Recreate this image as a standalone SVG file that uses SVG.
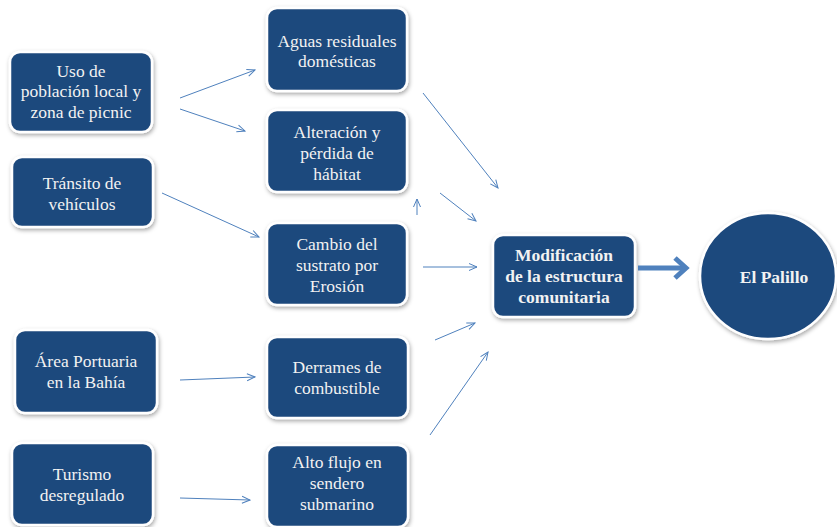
<svg xmlns="http://www.w3.org/2000/svg" width="837" height="527" viewBox="0 0 837 527">
  <defs>
    <filter id="shadow" x="-20%" y="-20%" width="140%" height="150%">
      <feDropShadow dx="1" dy="2" stdDeviation="2" flood-color="#000" flood-opacity="0.35"/>
    </filter>
    <marker id="head" viewBox="0 0 10 10" refX="9" refY="5" markerWidth="10" markerHeight="10" markerUnits="userSpaceOnUse" orient="auto">
      <path d="M1,1.5 L9,5 L1,8.5" fill="none" stroke="#4f81bd" stroke-width="1"/>
    </marker>
  </defs>
  <style>
    .box { fill: #1f497d; stroke: #ffffff; stroke-width: 2.5; filter: url(#shadow); }
    .lbl { font-family: "Liberation Serif", "Times New Roman", serif; font-size: 17.5px; fill: #f2f2f2; text-anchor: middle; }
    .bold { font-weight: bold; }
    .link { fill: none; stroke: #4f81bd; stroke-width: 1; marker-end: url(#head); }
    .thick { fill: none; stroke: #4f81bd; stroke-width: 5; stroke-linejoin: miter; }
  </style>
  <rect width="837" height="527" fill="#ffffff"/>

  <!-- source nodes -->
  <g id="uso">
    <rect class="box" x="10" y="52" width="142" height="80" rx="10"/>
    <text class="lbl" x="81" y="77">Uso de</text>
    <text class="lbl" x="81" y="97">población local y</text>
    <text class="lbl" x="81" y="118">zona de picnic</text>
  </g>
  <g id="transito">
    <rect class="box" x="12" y="157" width="141" height="70" rx="10"/>
    <text class="lbl" x="82" y="189">Tránsito de</text>
    <text class="lbl" x="82" y="210">vehículos</text>
  </g>
  <g id="area">
    <rect class="box" x="15" y="330" width="142" height="83" rx="10"/>
    <text class="lbl" x="86" y="367">Área Portuaria</text>
    <text class="lbl" x="86" y="388">en la Bahía</text>
  </g>
  <g id="turismo">
    <rect class="box" x="12" y="443" width="141" height="82" rx="10"/>
    <text class="lbl" x="82" y="480">Turismo</text>
    <text class="lbl" x="82" y="501">desregulado</text>
  </g>

  <!-- impact nodes -->
  <g id="aguas">
    <rect class="box" x="267" y="8" width="140" height="83" rx="10"/>
    <text class="lbl" x="337" y="47">Aguas residuales</text>
    <text class="lbl" x="337" y="67">domésticas</text>
  </g>
  <g id="alteracion">
    <rect class="box" x="267" y="110" width="140" height="82" rx="10"/>
    <text class="lbl" x="337" y="138">Alteración y</text>
    <text class="lbl" x="337" y="159">pérdida de</text>
    <text class="lbl" x="337" y="180">hábitat</text>
  </g>
  <g id="cambio">
    <rect class="box" x="267" y="223" width="140" height="82" rx="10"/>
    <text class="lbl" x="337" y="250">Cambio del</text>
    <text class="lbl" x="337" y="271">sustrato por</text>
    <text class="lbl" x="337" y="292">Erosión</text>
  </g>
  <g id="derrames">
    <rect class="box" x="267" y="337" width="141" height="81" rx="10"/>
    <text class="lbl" x="337" y="373">Derrames de</text>
    <text class="lbl" x="337" y="394">combustible</text>
  </g>
  <g id="alto-flujo">
    <rect class="box" x="267" y="445" width="141" height="82" rx="10"/>
    <text class="lbl" x="337" y="468">Alto flujo en</text>
    <text class="lbl" x="337" y="489">sendero</text>
    <text class="lbl" x="337" y="510">submarino</text>
  </g>

  <!-- outcome nodes -->
  <g id="modificacion">
    <rect class="box" x="493" y="235" width="142" height="82" rx="10"/>
    <text class="lbl bold" x="564" y="261">Modificación</text>
    <text class="lbl bold" x="564" y="282">de la estructura</text>
    <text class="lbl bold" x="564" y="303">comunitaria</text>
  </g>
  <g id="palillo">
    <ellipse class="box" cx="768" cy="276" rx="68" ry="63"/>
    <text class="lbl bold" x="774" y="283">El Palillo</text>
  </g>

  <!-- connectors -->
  <g id="connectors">
    <line class="link" x1="180" y1="98" x2="255" y2="70"/>
    <line class="link" x1="180" y1="109" x2="245" y2="131"/>
    <line class="link" x1="162" y1="193" x2="259" y2="237"/>
    <line class="link" x1="180" y1="380" x2="255" y2="377"/>
    <line class="link" x1="180" y1="498" x2="250" y2="500"/>
    <line class="link" x1="423" y1="93" x2="498" y2="188"/>
    <line class="link" x1="417" y1="215" x2="417" y2="199"/>
    <line class="link" x1="440" y1="193" x2="476" y2="221"/>
    <line class="link" x1="423" y1="267" x2="477" y2="267"/>
    <line class="link" x1="435" y1="340" x2="475" y2="323"/>
    <line class="link" x1="430" y1="435" x2="488" y2="352"/>
    <!-- heavy arrow into the circle -->
    <line class="thick" x1="638" y1="268" x2="685" y2="268"/>
    <path class="thick" d="M675,258 L686,268 L675,278"/>
  </g>
</svg>
